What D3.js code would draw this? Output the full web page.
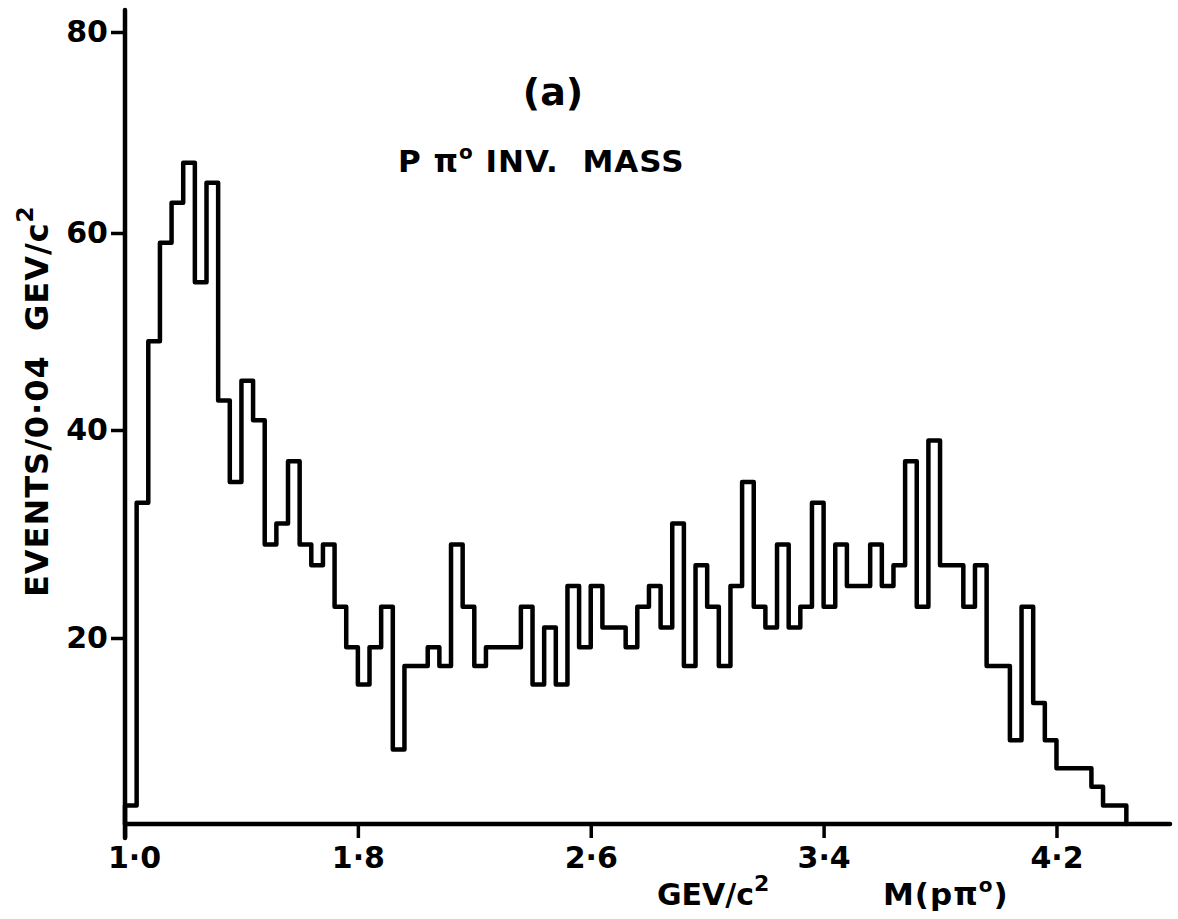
<!DOCTYPE html>
<html><head><meta charset="utf-8">
<script src="https://cdn.jsdelivr.net/npm/d3@7"></script>
<style>
html,body{margin:0;padding:0;background:#fff;}
svg{display:block;background:#fff;}
text{font-family:"DejaVu Sans",sans-serif;font-weight:bold;fill:#000;}
</style></head><body>
<svg id="chart" width="1178" height="919"></svg>
<script>
// ---- data ----
const binStart = 1.0;
const binWidth = 0.04;
const counts = [
  2, 33, 49, 59, 63, 67, 55, 65, 43, 35,
  45, 41, 29, 31, 37, 29, 27, 29, 23, 19,
  15, 19, 23, 8, 17, 17, 19, 17, 29, 23,
  17, 19, 19, 19, 23, 15, 21, 15, 25, 19,
  25, 21, 21, 19, 23, 25, 21, 31, 17, 27,
  23, 17, 25, 35, 23, 21, 29, 21, 23, 33,
  23, 29, 25, 25, 29, 25, 27, 37, 23, 39,
  27, 27, 23, 27, 17, 17, 9, 23, 13, 9,
  6, 6, 6, 4, 2, 2
];
const xTicks = [1.0, 1.8, 2.6, 3.4, 4.2];
const xTickLabels = ["1·0", "1·8", "2·6", "3·4", "4·2"];
const yTicks = [20, 40, 60, 80];
const yTickLabels = ["20", "40", "60", "80"];
const yLabel = "EVENTS/0·04  GEV/c";
const panelLabel = "(a)";
const xLabelUnits = "GEV/c";
const xLabelVar = "M(pπ";

// ---- scales (hand-drawn axis: slightly uneven tick spacing) ----
const svg = d3.select("#chart");
const x = d3.scaleLinear().domain([1.0, 4.59]).range([125, 1170]);
const y = d3.scaleLinear().domain([0, 20, 40, 60, 80]).range([824, 638, 430, 233, 32]);

const ink = "#000";
const lw = 4.5;

// ---- histogram outline ----
const pts = [[binStart, 0]];
counts.forEach((c, i) => {
  const x0 = binStart + i * binWidth;
  pts.push([x0, c]);
  pts.push([x0 + binWidth, c]);
});
pts.push([binStart + counts.length * binWidth, 0]);
const line = d3.line().x(d => x(d[0])).y(d => y(d[1]));
svg.append("path").attr("d", line(pts))
  .attr("fill", "none").attr("stroke", ink).attr("stroke-width", lw)
  .attr("stroke-linejoin", "round").attr("stroke-linecap", "round");

// ---- axes ----
const yAxis = d3.axisLeft(y).tickValues(yTicks).tickSize(14).tickPadding(3)
  .tickFormat((d, i) => yTickLabels[i]);
const gy = svg.append("g").attr("transform", `translate(${x(1.0)},0)`).call(yAxis);
gy.select(".domain").remove();
gy.selectAll(".tick line").attr("stroke", ink).attr("stroke-width", 3.5);
gy.selectAll(".tick text").attr("font-size", 30).attr("font-family", "DejaVu Sans").attr("font-weight", "bold");

const xAxis = d3.axisBottom(x).tickValues(xTicks).tickSize(14).tickPadding(9)
  .tickFormat((d, i) => xTickLabels[i]);
const gx = svg.append("g").attr("transform", `translate(0,${y(0)})`).call(xAxis);
gx.select(".domain").remove();
gx.selectAll(".tick line").attr("stroke", ink).attr("stroke-width", 3.5);
gx.selectAll(".tick text").attr("font-size", 30).attr("font-family", "DejaVu Sans").attr("font-weight", "bold");
gx.selectAll(".tick text").filter((d, i) => i === 0).attr("dx", 9);

// axis lines
svg.append("line").attr("x1", x(1.0)).attr("x2", x(1.0))
  .attr("y1", y(82.2)).attr("y2", y(0) + 14)
  .attr("stroke", ink).attr("stroke-width", lw).attr("stroke-linecap", "round");
svg.append("line").attr("x1", x(1.0)).attr("x2", x(4.59))
  .attr("y1", y(0)).attr("y2", y(0))
  .attr("stroke", ink).attr("stroke-width", lw).attr("stroke-linecap", "round");

// ---- texts ----
svg.append("text").attr("x", 553).attr("y", 105).attr("text-anchor", "middle")
  .attr("font-size", 38).text(panelLabel);

const t = svg.append("text").attr("x", 398).attr("y", 172).attr("font-size", 31)
  .attr("letter-spacing", 1).attr("xml:space", "preserve");
t.append("tspan").text("P π");
t.append("tspan").attr("font-size", 20).attr("dy", -13).text("o");
t.append("tspan").attr("dy", 13).text(" INV.  MASS");

const yl = svg.append("text").attr("transform", "translate(48,597) rotate(-90)")
  .attr("font-size", 32).attr("letter-spacing", 1).attr("xml:space", "preserve");
yl.append("tspan").text(yLabel);
yl.append("tspan").attr("font-size", 23).attr("dy", -15).text("2");

const xl1 = svg.append("text").attr("x", 657).attr("y", 905).attr("font-size", 30);
xl1.append("tspan").text(xLabelUnits);
xl1.append("tspan").attr("font-size", 22).attr("dy", -14).text("2");

const xl2 = svg.append("text").attr("x", 883).attr("y", 905).attr("font-size", 31)
  .attr("letter-spacing", 1);
xl2.append("tspan").text(xLabelVar);
xl2.append("tspan").attr("font-size", 20).attr("dy", -13).text("o");
xl2.append("tspan").attr("dy", 13).text(")");
</script>
</body></html>
